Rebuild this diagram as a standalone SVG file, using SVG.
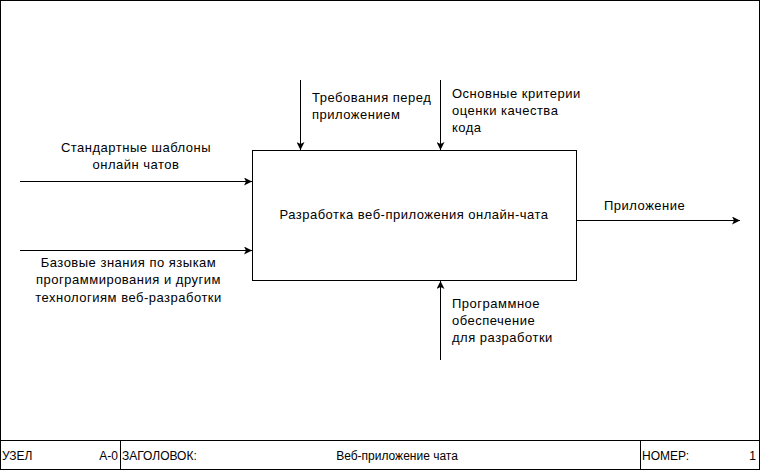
<svg xmlns="http://www.w3.org/2000/svg" width="761" height="471" viewBox="0 0 761 471">
<style>
text{font-family:"Liberation Sans",Arial,sans-serif;font-size:13px;fill:#000;letter-spacing:0.5px}
.b{font-size:12px;letter-spacing:0}
.ln{stroke:#000;stroke-width:1;fill:none}
.c{text-anchor:middle}
.e{text-anchor:end}
</style>
<defs>
<marker id="ah" viewBox="0 0 10 10" refX="10" refY="5" markerWidth="8" markerHeight="8" markerUnits="userSpaceOnUse" orient="auto">
<path d="M0,0 L10,5 L0,10 L2.5,5 Z" fill="#000"/>
</marker>
</defs>
<rect x="0" y="0" width="760" height="470" fill="#fff"/>
<g id="frame">
<rect x="0.5" y="0.5" width="759" height="469" class="ln"/>
<line x1="0" y1="440.5" x2="760" y2="440.5" class="ln"/>
<line x1="120.5" y1="440" x2="120.5" y2="470" class="ln"/>
<line x1="640.5" y1="440" x2="640.5" y2="470" class="ln"/>
<text x="2" y="460" class="b">УЗЕЛ</text>
<text x="118" y="460" class="b e">A-0</text>
<text x="122" y="460" class="b">ЗАГОЛОВОК:</text>
<text x="397" y="460" class="b c">Веб-приложение чата</text>
<text x="642" y="460" class="b">НОМЕР:</text>
<text x="756" y="460" class="b e">1</text>
</g>
<g id="node-main">
<rect x="252.5" y="150.5" width="324" height="130" fill="#fff" class="ln"/>
<text x="414" y="219" class="c">Разработка веб-приложения онлайн-чата</text>
</g>
<g id="connectors">
<line x1="20" y1="181.5" x2="252" y2="181.5" class="ln" marker-end="url(#ah)"/>
<line x1="20" y1="250.5" x2="252" y2="250.5" class="ln" marker-end="url(#ah)"/>
<line x1="300.5" y1="80" x2="300.5" y2="150" class="ln" marker-end="url(#ah)"/>
<line x1="440.5" y1="80" x2="440.5" y2="150" class="ln" marker-end="url(#ah)"/>
<line x1="440.5" y1="360" x2="440.5" y2="281" class="ln" marker-end="url(#ah)"/>
<line x1="577" y1="220.5" x2="740" y2="220.5" class="ln" marker-end="url(#ah)"/>
</g>
<g id="labels">
<text x="136" y="152" class="c">Стандартные шаблоны</text>
<text x="136" y="169" class="c">онлайн чатов</text>
<text x="128.5" y="267" class="c">Базовые знания по языкам</text>
<text x="128.5" y="284" class="c">программирования и другим</text>
<text x="128.5" y="302" class="c">технологиям веб-разработки</text>
<text x="312" y="102">Требования перед</text>
<text x="312" y="119">приложением</text>
<text x="452" y="98">Основные критерии</text>
<text x="452" y="115">оценки качества</text>
<text x="452" y="132">кода</text>
<text x="604" y="210">Приложение</text>
<text x="452" y="308">Программное</text>
<text x="452" y="325">обеспечение</text>
<text x="452" y="342">для разработки</text>
</g>
</svg>
